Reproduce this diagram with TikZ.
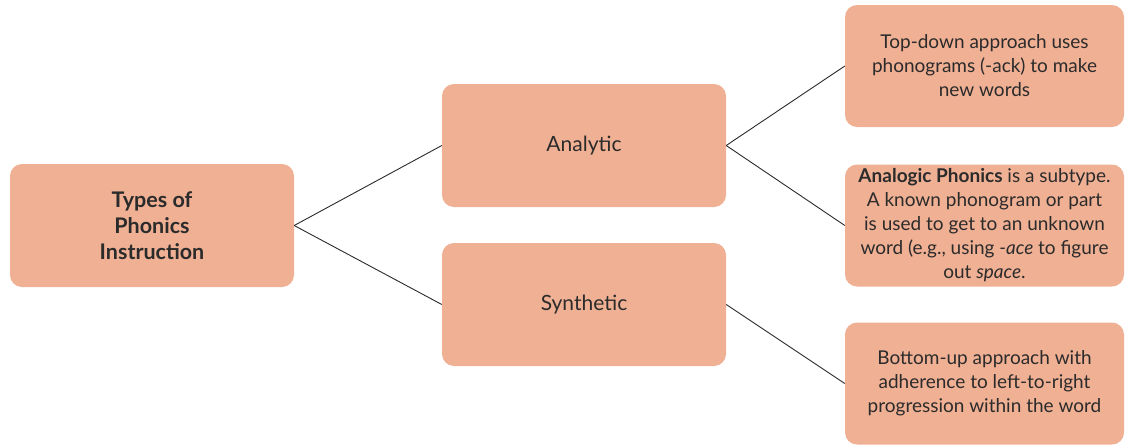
\documentclass[tikz,border=0pt]{standalone}
\usepackage{fontspec}
\setmainfont{Lato}
\usetikzlibrary{positioning}
\definecolor{salmon}{HTML}{F0B094}
\definecolor{inkgray}{HTML}{2B2B2B}

\begin{document}
\begin{tikzpicture} [x = 1pt, y = -1pt]
        %style
        \tikzset{box/.style = {shape=rectangle, fill=salmon, rounded corners=12pt, align=center, text=inkgray, inner sep=0pt, minimum width = 284pt, minimum height = 123pt, font=\fontsize{21}{26}\selectfont}}
        \tikzset{leaf/.style = {box, minimum width = 279pt, minimum height = 122pt, font=\fontsize{19}{24}\selectfont}}
        \tikzset{link/.style = {draw=inkgray, line width=0.9pt}}
        \useasboundingbox (0,0) rectangle (1125,445);
        \node[box, font=\fontsize{21.5}{26}\selectfont\bfseries] (root) at (152,225.5) {Types of\\Phonics\\Instruction};
        \node[box] (analytic)  at (584,145.5) {Analytic};
        \node[box] (synthetic) at (584,304.5) {Synthetic};
        \node[leaf] (topdown)  at (984.5,66)    {Top-down approach uses\\phonograms (-ack) to make\\new words};
        \node[leaf] (analogic) at (984.5,225.5) {\textbf{Analogic Phonics} is a subtype.\\A known phonogram or part\\is used to get to an unknown\\word (e.g., using \textit{-ace} to figure\\out \textit{space}.};
        \node[leaf] (bottomup) at (984.5,383.5) {Bottom-up approach with\\adherence to left-to-right\\progression within the word};
        \draw [link] (root.east) to (analytic.west);
        \draw [link] (root.east) to (synthetic.west);
        \draw [link] (analytic.east) to (topdown.west);
        \draw [link] (analytic.east) to (analogic.west);
        \draw [link] (synthetic.east) to (bottomup.west);
\end{tikzpicture}
\end{document}
